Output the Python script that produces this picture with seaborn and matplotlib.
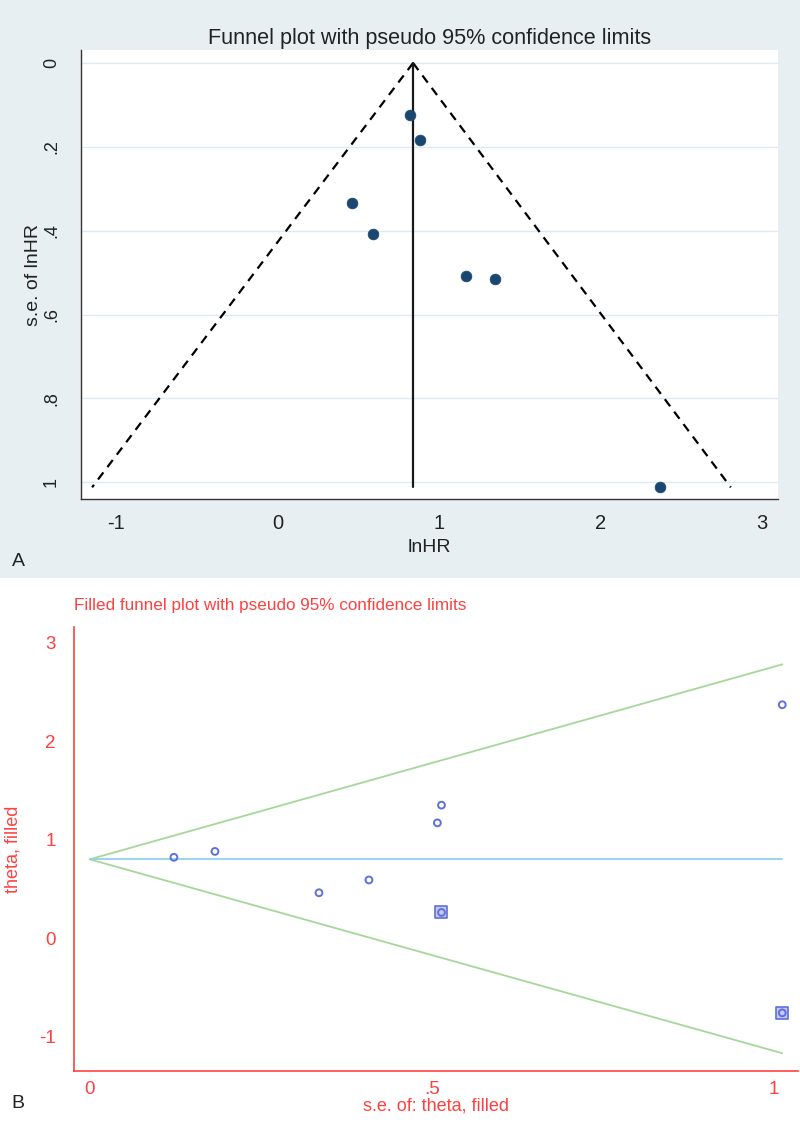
import matplotlib
matplotlib.use("Agg")
import matplotlib.pyplot as plt
import seaborn as sns
from matplotlib.patches import Rectangle

sns.set_theme(style="white")
plt.rcParams["font.family"] = ["Liberation Sans", "DejaVu Sans"]

# studies (standard error, log hazard ratio)
se_lnhr = [0.123, 0.183, 0.335, 0.408, 0.508, 0.514, 1.012]
lnhr = [0.82, 0.88, 0.46, 0.59, 1.17, 1.35, 2.37]

# trim-and-fill imputed studies (panel B squares)
se_filled = [0.514, 1.012]
theta_filled = [0.26, -0.76]

# pooled estimate lines and pseudo 95% limits (end points)
pooled_se = [0.0, 1.012]
pooled_a = [0.84, 0.84]
pooled_b = [0.80, 0.80]
funnel_lo_a = [0.84, -1.15]
funnel_hi_a = [0.84, 2.81]
funnel_lo_b = [0.80, -1.17]
funnel_hi_b = [0.80, 2.78]

a_yticks = [0, 0.2, 0.4, 0.6, 0.8, 1]
a_ylabels = ["0", ".2", ".4", ".6", ".8", "1"]
a_xticks = [-1, 0, 1, 2, 3]
b_xticks = [0, 0.5, 1]
b_xlabels = ["0", ".5", "1"]
b_yticks = [-1, 0, 1, 2, 3]

BG_A = "#e8eff3"
GRID_A = "#dde9f3"
NAVY = "#1a476f"
RED = "#ff4040"
GREEN = "#a6d79a"
LBLUE = "#90d2ea"
PURPLE = "#5f6fdc"
INK = "#222222"

fig = plt.figure(figsize=(8, 11.24), dpi=100)
# light blue-grey frame behind panel A
fig.patches.append(Rectangle((0, 1 - 578 / 1124), 1, 578 / 1124,
                             transform=fig.transFigure, facecolor=BG_A,
                             edgecolor="none", zorder=-10))

# ---------------- panel A ----------------
axA = fig.add_axes([0.101, 0.556, 0.871, 0.3995])
axA.set_facecolor("white")
for ys in a_yticks:
    axA.axhline(ys, color=GRID_A, lw=1, zorder=0)

sns.lineplot(x=funnel_lo_a, y=pooled_se, sort=False, estimator=None, ax=axA,
             color="black", lw=1.6, linestyle=(0, (4, 3)))
sns.lineplot(x=funnel_hi_a, y=pooled_se, sort=False, estimator=None, ax=axA,
             color="black", lw=1.6, linestyle=(0, (4, 3)))
sns.lineplot(x=pooled_a, y=pooled_se, sort=False, estimator=None, ax=axA,
             color="#1a1a1a", lw=1.6)
sns.scatterplot(x=lnhr, y=se_lnhr, ax=axA, color=NAVY, edgecolor=NAVY,
                s=60, linewidth=0.5, zorder=3)

axA.set_xlim(-1.22, 3.10)
axA.set_ylim(1.04, -0.031)
axA.set_xticks(a_xticks)
axA.set_xticklabels([str(t) for t in a_xticks], fontsize=14.5)
axA.set_yticks(a_yticks)
axA.set_yticklabels(a_ylabels, fontsize=13, rotation=90, va="center")
axA.tick_params(axis="both", length=5, width=1, color="#333333",
                labelcolor=INK)
axA.tick_params(axis="x", pad=6)
axA.tick_params(axis="y", pad=10)
for s in ["top", "right"]:
    axA.spines[s].set_visible(False)
for s in ["left", "bottom"]:
    axA.spines[s].set_color("#333333")
    axA.spines[s].set_linewidth(1)

axA.set_title("Funnel plot with pseudo 95% confidence limits", fontsize=15.6,
              color=INK, pad=4)
axA.set_xlabel("lnHR", fontsize=14, color=INK, va="center")
axA.xaxis.set_label_coords(0.5, -0.107)
axA.set_ylabel("s.e. of lnHR", fontsize=14, color=INK, va="center")
axA.yaxis.set_label_coords(-0.068, 0.5)

fig.text(18 / 800, 1 - 561 / 1124, "A", fontsize=14, color=INK,
         ha="center", va="center")

# ---------------- panel B ----------------
axB = fig.add_axes([0.0925, 0.0472, 0.905, 0.395])
axB.set_facecolor("white")

sns.lineplot(x=pooled_se, y=funnel_hi_b, sort=False, estimator=None, ax=axB,
             color=GREEN, lw=1.3)
sns.lineplot(x=pooled_se, y=funnel_lo_b, sort=False, estimator=None, ax=axB,
             color=GREEN, lw=1.3)
sns.lineplot(x=pooled_se, y=pooled_b, sort=False, estimator=None, ax=axB,
             color=LBLUE, lw=1.3)
sns.scatterplot(x=se_filled, y=theta_filled, ax=axB, marker="s", s=75,
                color="#c3c9f0", edgecolor=PURPLE, linewidth=1.2, zorder=3)
sns.scatterplot(x=se_lnhr + se_filled, y=lnhr + theta_filled, ax=axB,
                marker="o", s=24, color="none", edgecolor=PURPLE,
                linewidth=1.4, zorder=4)

axB.set_xlim(-0.023, 1.035)
axB.set_ylim(-1.35, 3.16)
axB.set_xticks(b_xticks)
axB.set_xticklabels(b_xlabels, fontsize=13.5)
axB.set_yticks(b_yticks)
axB.set_yticklabels([str(t) for t in b_yticks], fontsize=13.5)
axB.tick_params(axis="both", width=1, color=RED, labelcolor=RED)
axB.tick_params(axis="x", length=4, pad=3)
axB.tick_params(axis="y", length=8, pad=5)
for s in ["top", "right"]:
    axB.spines[s].set_visible(False)
for s in ["left", "bottom"]:
    axB.spines[s].set_color(RED)
    axB.spines[s].set_linewidth(1.2)

axB.set_title("Filled funnel plot with pseudo 95% confidence limits",
              loc="left", fontsize=12.3, color=RED, pad=12)
axB.set_xlabel("s.e. of: theta, filled", fontsize=13, color=RED, va="center")
axB.xaxis.set_label_coords(0.5, -0.078)
axB.set_ylabel("theta, filled", fontsize=13, color=RED, va="center")
axB.yaxis.set_label_coords(-0.084, 0.5)

fig.text(18 / 800, 1 - 1104 / 1124, "B", fontsize=14, color=INK,
         ha="center", va="center")

fig.savefig("out.png", dpi=100)
